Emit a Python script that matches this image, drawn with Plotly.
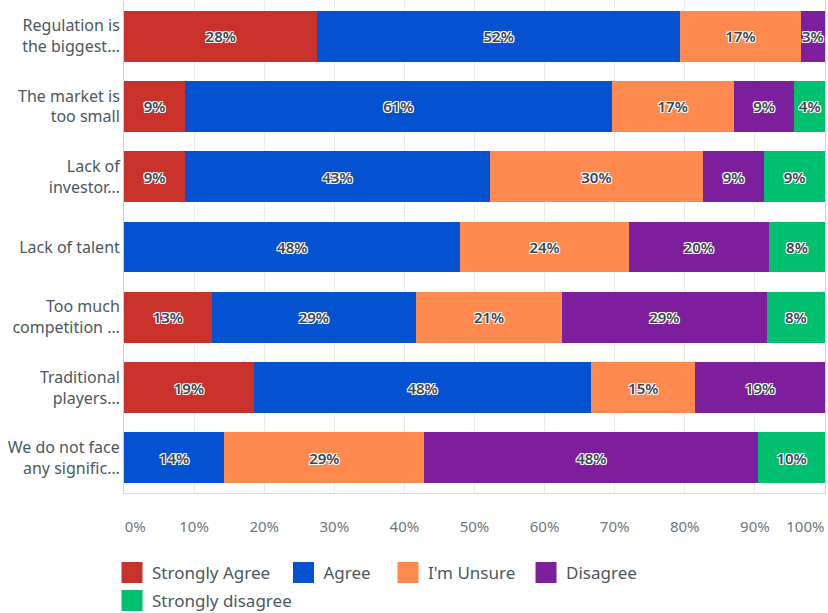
import plotly.graph_objects as go

# Survey statements (top to bottom)
statements = [
    "Regulation is<br>the biggest…",
    "The market is<br>too small",
    "Lack of<br>investor…",
    "Lack of talent",
    "Too much<br>competition …",
    "Traditional<br>players…",
    "We do not face<br>any signific…",
]

# Share of respondents per answer (%), one list per answer option
strongly_agree = [27.59, 8.70, 8.70, None, 12.50, 18.52, None]
agree = [51.72, 60.87, 43.48, 48.00, 29.17, 48.15, 14.29]
unsure = [17.24, 17.39, 30.43, 24.00, 20.83, 14.81, 28.57]
disagree = [3.45, 8.69, 8.70, 20.00, 29.17, 18.52, 47.62]
strongly_disagree = [None, 4.35, 8.69, 8.00, 8.33, None, 9.52]

series_names = ["Strongly Agree", "Agree", "I'm Unsure", "Disagree", "Strongly disagree"]
series_values = [strongly_agree, agree, unsure, disagree, strongly_disagree]
series_colors = ["#C8322B", "#0452D0", "#FF8A4F", "#7D1F9D", "#00BF6F"]

# Gridlines every 10%; the end labels are pulled inside the plot edges
grid_values = [0, 10, 20, 30, 40, 50, 60, 70, 80, 90, 100]
label_positions = [1.6, 10, 20, 30, 40, 50, 60, 70, 80, 90, 97.2]
tick_labels = ["0%", "10%", "20%", "30%", "40%", "50%", "60%", "70%", "80%", "90%", "100%"]

halo = "1px 1px 0 #ffffff, -1px -1px 0 #ffffff, 1px -1px 0 #ffffff, -1px 1px 0 #ffffff"

FONT = "Noto Sans, Open Sans, sans-serif"

fig = go.Figure()
for name, vals, col in zip(series_names, series_values, series_colors):
    fig.add_trace(go.Bar(
        y=statements,
        x=vals,
        name=name,
        orientation="h",
        marker=dict(color=col, line=dict(width=0)),
        texttemplate="%{x:.0f}%",
        textposition="inside",
        insidetextanchor="middle",
        textangle=0,
        constraintext="none",
        textfont=dict(family=FONT, size=15, color="#3b4750", weight=600, shadow=halo),
        showlegend=False,
        hoverinfo="skip",
        cliponaxis=False,
    ))

# One legend box per answer option so each swatch sits at its own spot
legend_ids = ["legend", "legend2", "legend3", "legend4", "legend5"]
for name, col, lid in zip(series_names, series_colors, legend_ids):
    fig.add_trace(go.Scatter(
        x=[None], y=[None],
        mode="markers",
        name=name,
        marker=dict(symbol="square", size=16, color=col, line=dict(color=col, width=5)),
        legend=lid,
        showlegend=True,
    ))

legend_style = dict(
    orientation="h",
    xanchor="left",
    yanchor="top",
    traceorder="normal",
    font=dict(family=FONT, size=17, color="#4b5860"),
    itemsizing="trace",
    bgcolor="rgba(0,0,0,0)",
    tracegroupgap=0,
)

row1_y = -0.126
row2_y = -0.183

fig.update_layout(
    width=828,
    height=613,
    margin=dict(l=124, r=3, t=1, b=120, autoexpand=False),
    barmode="stack",
    bargap=0.277,
    plot_bgcolor="#ffffff",
    paper_bgcolor="#ffffff",
    font=dict(family=FONT),
    xaxis=dict(
        range=[0, 100.005],
        tickmode="array",
        tickvals=label_positions,
        ticktext=tick_labels,
        automargin=False,
        showgrid=False,
        minor=dict(tickmode="array", tickvals=grid_values, showgrid=True,
                   gridcolor="#e9ebed", gridwidth=1, ticks=""),
        zeroline=False,
        showline=True,
        linecolor="#d9dcdf",
        linewidth=1,
        ticks="",
        ticklabelstandoff=20,
        tickfont=dict(family=FONT, size=15, color="#6b7880"),
        fixedrange=True,
    ),
    yaxis=dict(
        autorange="reversed",
        automargin=False,
        showline=True,
        mirror=True,
        linecolor="#cfd3d6",
        linewidth=1,
        ticks="",
        ticklabelstandoff=0,
        tickfont=dict(family=FONT, size=16, color="#4b5860"),
        showgrid=False,
        fixedrange=True,
    ),
    legend=dict(x=-0.0171, y=row1_y, **legend_style),
    legend2=dict(x=0.2275, y=row1_y, **legend_style),
    legend3=dict(x=0.3766, y=row1_y, **legend_style),
    legend4=dict(x=0.5735, y=row1_y, **legend_style),
    legend5=dict(x=-0.0171, y=row2_y, **legend_style),
)

fig.write_html("out.html")
